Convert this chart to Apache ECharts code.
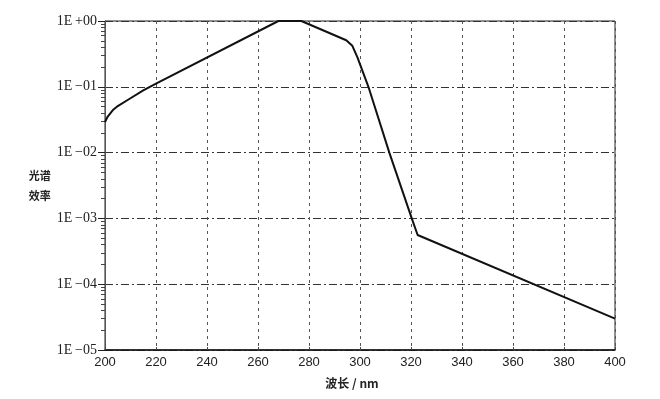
<!DOCTYPE html>
<html>
<head>
<meta charset="utf-8">
<script src="https://cdn.jsdelivr.net/npm/echarts@6/dist/echarts.min.js"></script>
<style>
  html, body { margin: 0; padding: 0; background: #fff; }
  #chart { width: 660px; height: 399px; }
</style>
</head>
<body>
<div id="chart"></div>
<script>
// 波长 (nm) 与 光谱效率
const wavelengths = [200, 201, 203, 205, 210, 215, 220, 268, 277, 294.6, 297, 299, 303.3, 311.5, 320.3, 322.6, 400];
const efficiency = [0.029, 0.035, 0.044, 0.051, 0.067, 0.088, 0.112, 1.0, 1.0, 0.51, 0.42, 0.28, 0.1, 0.01, 0.001, 0.00056, 0.00003];

const xTicks = [200, 220, 240, 260, 280, 300, 320, 340, 360, 380, 400];
const yDecades = [1e-5, 1e-4, 1e-3, 1e-2, 1e-1, 1];
const yTickLabels = ['1E\u2009\u221205', '1E\u2009\u221204', '1E\u2009\u221203', '1E\u2009\u221202', '1E\u2009\u221201', '1E\u2009+00'];

// 对数次刻度 2..9（换算成 log10 位置，画在辅助的线性轴上）
const minorTicks = [];
yDecades.slice(0, -1).forEach(d => {
  for (let k = 2; k <= 9; k++) minorTicks.push(Math.log10(d * k));
});

const points = wavelengths.map((w, i) => [w, efficiency[i]]);

const chart = echarts.init(document.getElementById('chart'));
const option = {
  backgroundColor: '#fff',
  animation: false,
  grid: {
    left: 105,
    top: 21,
    width: 510,
    height: 329,
    show: true,
    borderColor: '#222',
    borderWidth: 1
  },
  xAxis: {
    type: 'value',
    min: 200,
    max: 400,
    interval: 20,
    name: '波长 / nm',
    nameLocation: 'middle',
    nameGap: 27,
    nameTextStyle: {
      fontFamily: 'Noto Sans CJK SC',
      fontSize: 12,
      fontWeight: 'bold',
      color: '#222',
      padding: [0, 16, 0, 0]
    },
    axisLine: { onZero: false, lineStyle: { color: '#111', width: 1.5 } },
    axisTick: { inside: true, length: 3, lineStyle: { color: '#444' } },
    axisLabel: {
      customValues: xTicks,
      margin: 6,
      fontFamily: 'Liberation Sans',
      fontSize: 13,
      color: '#222'
    },
    splitLine: {
      show: true,
      lineStyle: { color: '#555', type: [3, 4], width: 1 }
    }
  },
  yAxis: [{
    type: 'log',
    logBase: 10,
    min: 1e-5,
    max: 1,
    name: '光谱\n效率',
    nameLocation: 'middle',
    nameRotate: 0,
    nameGap: 46,
    nameTextStyle: {
      fontFamily: 'Noto Sans CJK SC',
      fontSize: 11,
      fontWeight: 'bold',
      color: '#222',
      lineHeight: 20
    },
    axisLine: { show: true, lineStyle: { color: '#555', width: 1 } },
    axisTick: { show: true, length: 7, lineStyle: { color: '#222' } },
    axisLabel: {
      margin: 8,
      fontFamily: 'Liberation Serif',
      fontSize: 14,
      color: '#222',
      formatter: v => {
        const i = yDecades.findIndex(d => Math.abs(Math.log10(d) - Math.log10(v)) < 1e-6);
        return i >= 0 ? yTickLabels[i] : '';
      }
    },
    splitLine: {
      show: true,
      lineStyle: { color: '#333', type: [8, 3, 2, 3], width: 1 }
    }
  }, {
    type: 'value',
    min: -5,
    max: 0,
    position: 'left',
    axisLine: { show: true, onZero: false, lineStyle: { color: '#555', width: 1 } },
    axisTick: { show: true, length: 4, customValues: minorTicks, lineStyle: { color: '#444', width: 1 } },
    axisLabel: { show: true, customValues: minorTicks, formatter: () => '' },
    splitLine: { show: false }
  }],
  series: [{
    type: 'line',
    data: points,
    showSymbol: false,
    smooth: false,
    lineStyle: { color: '#111', width: 2 }
  }]
};
chart.setOption(option);
</script>
</body>
</html>
